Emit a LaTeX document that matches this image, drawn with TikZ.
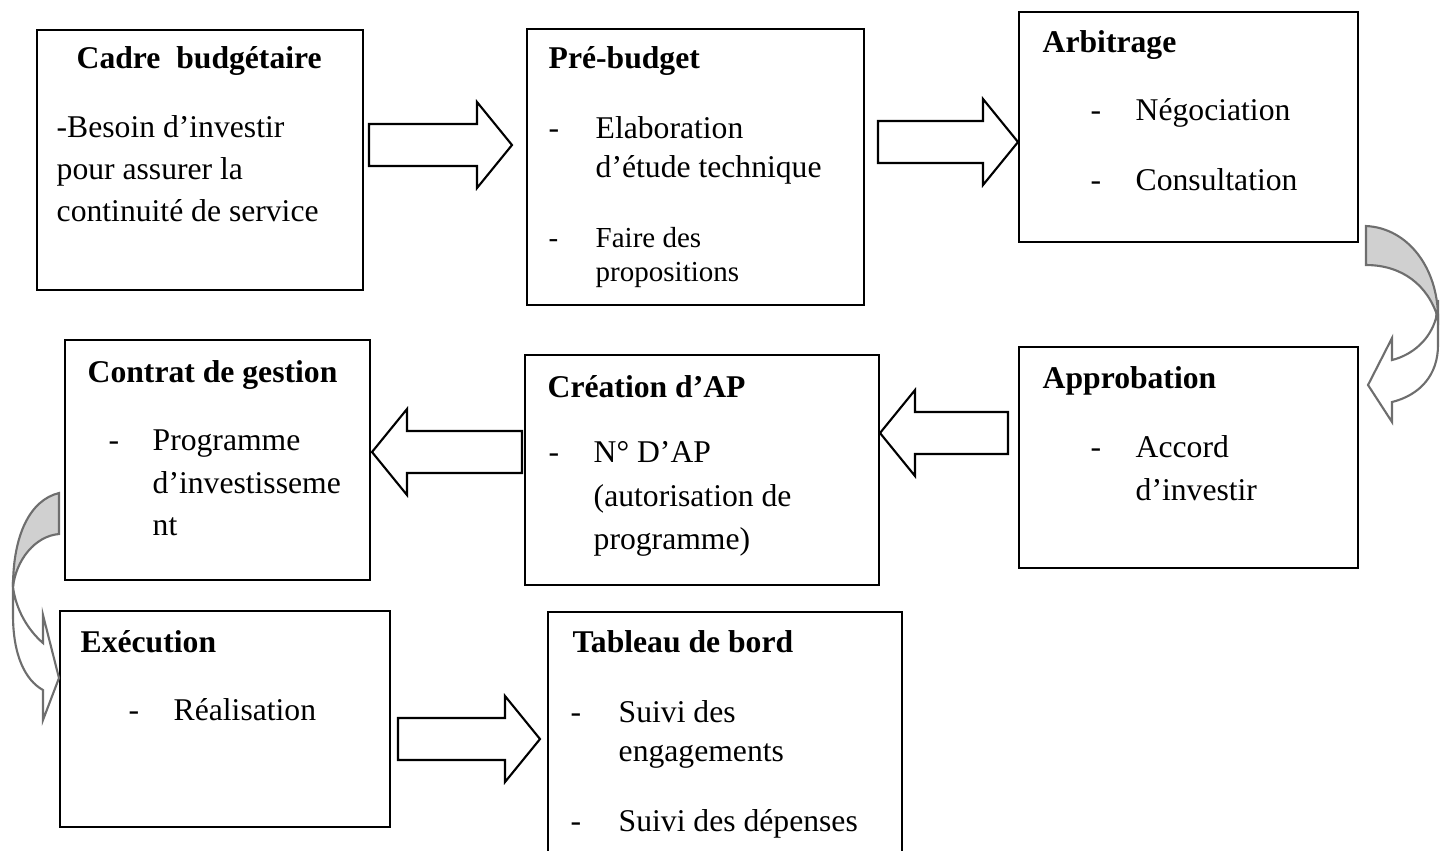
\documentclass[tikz,border=0pt]{standalone}
\usepackage{fontspec}
\setmainfont{Liberation Serif}
\usetikzlibrary{calc}
\definecolor{arrowgray}{RGB}{110,110,110}
\definecolor{backgray}{RGB}{208,208,208}
\tikzset{
	box/.style={draw,line width=0.55pt,inner sep=0pt,outer sep=0pt},
	ttl/.style={anchor=base west,inner sep=0pt,font=\fontsize{9}{11}\selectfont\bfseries},
	txt/.style={anchor=base west,inner sep=0pt,font=\fontsize{9}{11}\selectfont},
	sml/.style={anchor=base west,inner sep=0pt,font=\fontsize{8.25}{10}\selectfont},
	blockarrow/.style={draw,line width=0.6pt,fill=white,line join=miter},
	curveback/.style={draw=arrowgray,fill=backgray,line width=0.6pt},
	curvefront/.style={draw=arrowgray,fill=white,line width=0.6pt}
}
\newcommand{\blockarr}[3]{%
	\draw[blockarrow] ($(#1)+(0,-21)$) -- ($(#2)+({-35*(#3)},-21)$)
	-- ($(#2)+({-35*(#3)},-43)$) -- (#2) -- ($(#2)+({-35*(#3)},43)$)
	-- ($(#2)+({-35*(#3)},21)$) -- ($(#1)+(0,21)$) -- cycle;}
\begin{document}
\begin{tikzpicture}[x=0.01cm,y=-0.01cm]
		\useasboundingbox (0,0) rectangle (1446,850);
		\clip (0,0) rectangle (1446,850);
		% boxes
		\node[box,minimum width=3.26cm,minimum height=2.60cm] (cadre) at (200,160) {};
		\node[box,minimum width=3.37cm,minimum height=2.76cm] (prebudget) at (695.5,167) {};
		\node[box,minimum width=3.39cm,minimum height=2.30cm] (arbitrage) at (1188.5,127) {};
		\node[box,minimum width=3.39cm,minimum height=2.21cm] (approbation) at (1188.5,457.5) {};
		\node[box,minimum width=3.54cm,minimum height=2.30cm] (creation) at (702,470) {};
		\node[box,minimum width=3.05cm,minimum height=2.40cm] (contrat) at (217.5,460) {};
		\node[box,minimum width=3.30cm,minimum height=2.16cm] (execution) at (225,719) {};
		\node[box,minimum width=3.54cm,minimum height=2.58cm] (tableau) at (725,741) {};
		% texts
		\node[ttl] (cadre-t) at (76,68) {Cadre\ \ budgétaire};
		\node[txt] (cadre-1) at (56,137) {-Besoin d’investir};
		\node[txt] (cadre-2) at (56,179) {pour assurer la};
		\node[txt] (cadre-3) at (56,221) {continuité de service};
		\node[ttl] (prebudget-t) at (548,68) {Pré-budget};
		\node[txt] (prebudget-d1) at (548,138) {-};
		\node[txt] (prebudget-1) at (595,138) {Elaboration};
		\node[txt] (prebudget-2) at (595,177) {d’étude technique};
		\node[sml] (prebudget-d2) at (548,247) {-};
		\node[sml] (prebudget-3) at (595,247) {Faire des};
		\node[sml] (prebudget-4) at (595,281) {propositions};
		\node[ttl] (arbitrage-t) at (1042,52) {Arbitrage};
		\node[txt] (arbitrage-d1) at (1090,120) {-};
		\node[txt] (arbitrage-1) at (1135,120) {Négociation};
		\node[txt] (arbitrage-d2) at (1090,190) {-};
		\node[txt] (arbitrage-2) at (1135,190) {Consultation};
		\node[ttl] (approbation-t) at (1042,388) {Approbation};
		\node[txt] (approbation-d) at (1090,457) {-};
		\node[txt] (approbation-1) at (1135,457) {Accord};
		\node[txt] (approbation-2) at (1135,500) {d’investir};
		\node[ttl] (creation-t) at (547,397) {Création d’AP};
		\node[txt] (creation-d) at (548,462) {-};
		\node[txt] (creation-1) at (593,462) {N° D’AP};
		\node[txt] (creation-2) at (593,506) {(autorisation de};
		\node[txt] (creation-3) at (593,549) {programme)};
		\node[ttl] (contrat-t) at (87,382) {Contrat de gestion};
		\node[txt] (contrat-d) at (108,450) {-};
		\node[txt] (contrat-1) at (152,450) {Programme};
		\node[txt] (contrat-2) at (152,493) {d’investisseme};
		\node[txt] (contrat-3) at (152,535) {nt};
		\node[ttl] (execution-t) at (80,652) {Exécution};
		\node[txt] (execution-d) at (128,720) {-};
		\node[txt] (execution-1) at (173,720) {Réalisation};
		\node[ttl] (tableau-t) at (572,652) {Tableau de bord};
		\node[txt] (tableau-d1) at (570,722) {-};
		\node[txt] (tableau-1) at (618,722) {Suivi des};
		\node[txt] (tableau-2) at (618,761) {engagements};
		\node[txt] (tableau-d2) at (570,831) {-};
		\node[txt] (tableau-3) at (618,831) {Suivi des dépenses};
		% block arrows
		\coordinate (a1s) at (369,145);
		\coordinate (a1e) at (512,145);
		\coordinate (a2s) at (878,142);
		\coordinate (a2e) at (1018,142);
		\coordinate (a3s) at (1008,433);
		\coordinate (a3e) at (880,433);
		\coordinate (a4s) at (522,452);
		\coordinate (a4e) at (372,452);
		\coordinate (a5s) at (398,739);
		\coordinate (a5e) at (540,739);
		\blockarr{a1s}{a1e}{1}
		\blockarr{a2s}{a2e}{1}
		\blockarr{a3s}{a3e}{-1}
		\blockarr{a4s}{a4e}{-1}
		\blockarr{a5s}{a5e}{1}
		% curved arrows
		\draw[curvefront] (1438,300) -- (1438,345) .. controls (1438,375) and (1420,395) .. (1392,402)
		-- (1392,422) -- (1368,385) -- (1392,338) -- (1392,360)
		.. controls (1412,355) and (1430,340) .. (1436,318) -- cycle;
		\draw[curveback] (1366,226) .. controls (1408,228) and (1438,268) .. (1438,318)
		.. controls (1428,285) and (1402,265) .. (1366,265) -- cycle;
		\draw[curvefront] (13,580) -- (13,615) .. controls (13,655) and (25,680) .. (43,690)
		-- (43,720) -- (59,678) -- (43,615) -- (43,643)
		.. controls (28,630) and (16,610) .. (13,587) -- cycle;
		\draw[curveback] (59,493) .. controls (30,500) and (13,535) .. (13,587)
		.. controls (16,560) and (35,536) .. (59,534) -- cycle;
	\end{tikzpicture}
\end{document}
